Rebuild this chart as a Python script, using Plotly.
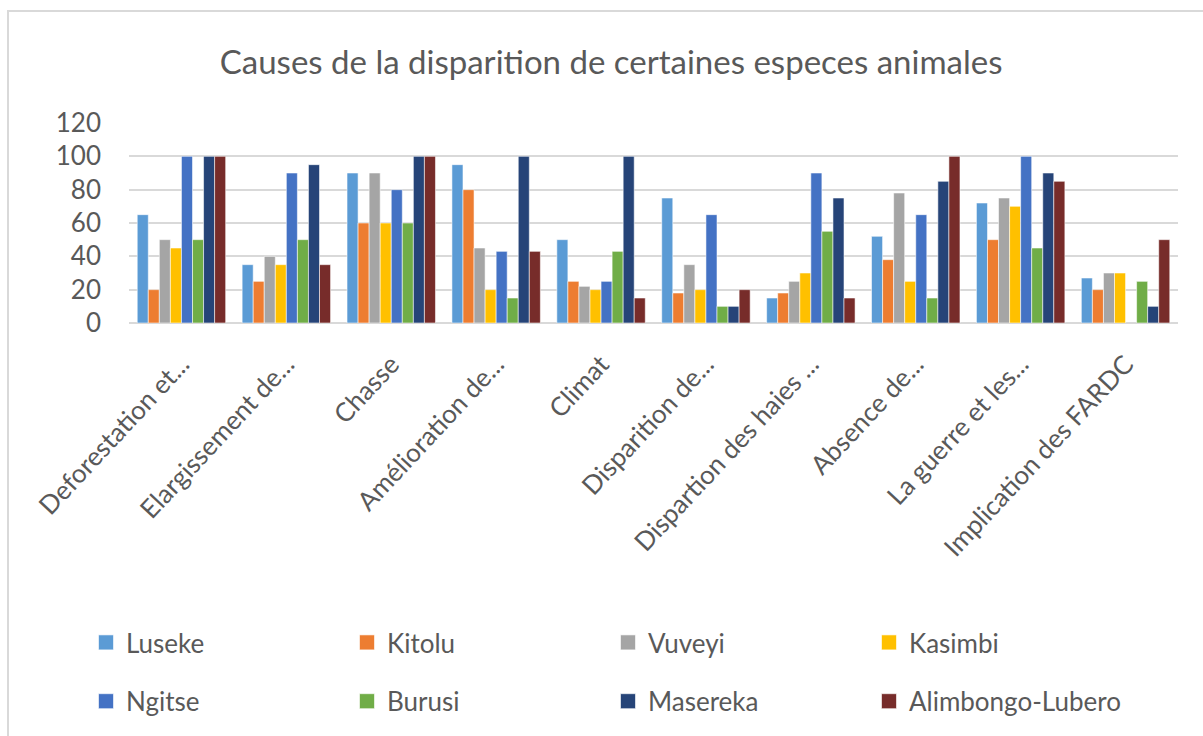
import plotly.graph_objects as go

categories = [
    "Deforestation et...",
    "Elargissement de...",
    "Chasse",
    "Amélioration de...",
    "Climat",
    "Disparition de...",
    "Dispartion des haies ...",
    "Absence de...",
    "La guerre et les...",
    "Implication des FARDC",
]

luseke = [65, 35, 90, 95, 50, 75, 15, 52, 72, 27]
kitolu = [20, 25, 60, 80, 25, 18, 18, 38, 50, 20]
vuveyi = [50, 40, 90, 45, 22, 35, 25, 78, 75, 30]
kasimbi = [45, 35, 60, 20, 20, 20, 30, 25, 70, 30]
ngitse = [100, 90, 80, 43, 25, 65, 90, 65, 100, None]
burusi = [50, 50, 60, 15, 43, 10, 55, 15, 45, 25]
masereka = [100, 95, 100, 100, 100, 10, 75, 85, 90, 10]
alimbongo = [100, 35, 100, 43, 15, 20, 15, 100, 85, 50]

series_names = ["Luseke", "Kitolu", "Vuveyi", "Kasimbi",
                "Ngitse", "Burusi", "Masereka", "Alimbongo-Lubero"]
series_values = [luseke, kitolu, vuveyi, kasimbi,
                 ngitse, burusi, masereka, alimbongo]
series_colors = ["#5B9BD5", "#ED7D31", "#A5A5A5", "#FFC000",
                 "#4472C4", "#70AD47", "#264478", "#772C2A"]

# legend column for each series (two rows of four entries)
legend_ids = ["legend", "legend2", "legend3", "legend4",
              "legend", "legend2", "legend3", "legend4"]

TEXT = "#595959"
FONT = "Lato"

W, H = 1203, 736
L, R, T, B = 129, 25, 123, 413

fig = go.Figure()
for name, vals, col in zip(series_names, series_values, series_colors):
    fig.add_trace(go.Bar(
        x=categories, y=vals, name=name,
        marker=dict(color=col, line=dict(color="rgba(255,255,255,0.55)", width=1)),
        showlegend=False, legendgroup=name,
    ))

# square swatches for the legend entries
for name, col, lg in zip(series_names, series_colors, legend_ids):
    fig.add_trace(go.Scatter(
        x=[None], y=[None], name=name, mode="markers",
        marker=dict(symbol="square", size=15, color=col,
                    line=dict(color="rgba(255,255,255,0.6)", width=1)),
        legend=lg, legendgroup=name, showlegend=True,
    ))

plot_w = W - L - R
plot_h = H - T - B


def px_to_paper_x(px):
    return (px - L) / plot_w


def py_to_paper_y(py):
    return (H - B - py) / plot_h


legend_common = dict(
    orientation="v",
    yanchor="top",
    xanchor="left",
    font=dict(family=FONT, size=26, color=TEXT),
    bgcolor="rgba(0,0,0,0)",
    tracegroupgap=22,
    itemclick=False,
    itemsizing="trace",
)
legend_x = [86, 347, 608, 869]
legend_y = py_to_paper_y(619)

fig.update_layout(
    width=W, height=H,
    margin=dict(l=L, r=R, t=T, b=B),
    paper_bgcolor="white",
    plot_bgcolor="white",
    barmode="group",
    bargap=0.157,
    bargroupgap=0,
    title=dict(
        text="Causes de la disparition de certaines especes animales",
        x=0.508, xanchor="center",
        y=1 - 62 / H, yanchor="middle", yref="container",
        font=dict(family=FONT, size=33, color=TEXT),
    ),
    font=dict(family=FONT, color=TEXT),
    legend=dict(x=px_to_paper_x(legend_x[0]), y=legend_y, **legend_common),
    legend2=dict(x=px_to_paper_x(legend_x[1]), y=legend_y, **legend_common),
    legend3=dict(x=px_to_paper_x(legend_x[2]), y=legend_y, **legend_common),
    legend4=dict(x=px_to_paper_x(legend_x[3]), y=legend_y, **legend_common),
    xaxis=dict(
        tickangle=-47,
        tickfont=dict(family=FONT, size=26, color=TEXT),
        showgrid=False,
        showline=False,
        ticks="",
        ticklabelstandoff=20,
    ),
    yaxis=dict(
        range=[0, 120],
        dtick=20,
        showgrid=True,
        gridcolor="#D9D9D9",
        gridwidth=1.5,
        zeroline=True,
        zerolinecolor="#D9D9D9",
        zerolinewidth=1.5,
        showline=False,
        ticks="",
        tickfont=dict(family=FONT, size=26, color=TEXT),
        ticklabelstandoff=27,
    ),
    shapes=[
        # outer chart frame
        dict(type="rect", xref="paper", yref="paper",
             x0=px_to_paper_x(8), x1=px_to_paper_x(W + 10),
             y0=py_to_paper_y(H + 10), y1=py_to_paper_y(11),
             line=dict(color="#D9D9D9", width=2), layer="below"),
    ],
)

fig.write_html("out.html")
